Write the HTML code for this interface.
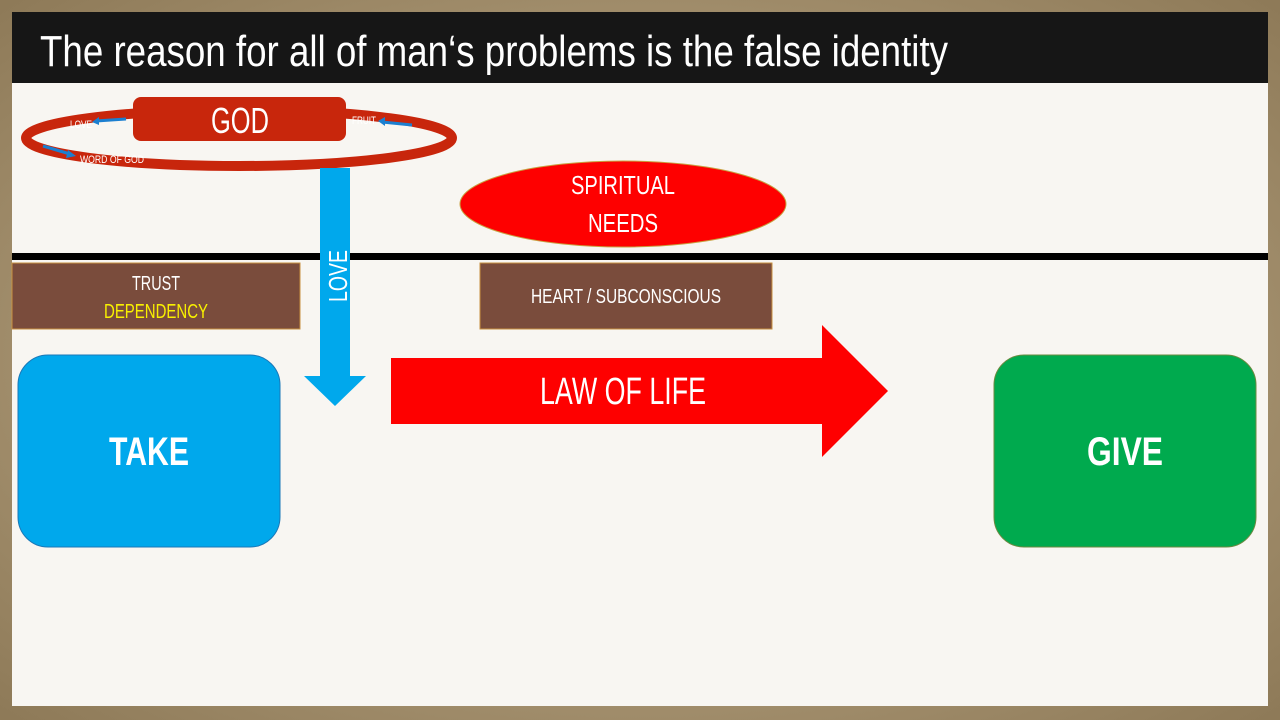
<!DOCTYPE html>
<html><head><meta charset="utf-8"><style>
html,body{margin:0;padding:0;width:1280px;height:720px;overflow:hidden;background:#a08a68}
svg{display:block}
text{font-family:"Liberation Sans Narrow","Liberation Sans",sans-serif}
</style></head><body>
<svg width="1280" height="720" viewBox="0 0 1280 720" xmlns="http://www.w3.org/2000/svg">
<defs>
<radialGradient id="bg" cx="50%" cy="50%" r="70%">
<stop offset="0" stop-color="#c9b694"/><stop offset="1" stop-color="#8e7a58"/></radialGradient>
</defs>
<rect width="1280" height="720" fill="url(#bg)"/>
<rect x="12" y="12" width="1256" height="694" fill="#f8f6f2"/>
<rect x="12" y="12" width="1256" height="71" fill="#161616"/>
<text x="40" y="66" fill="#fff" font-size="44" textLength="908" lengthAdjust="spacingAndGlyphs">The reason for all of man‘s problems is the false identity</text>

<ellipse cx="239" cy="138" rx="213" ry="28" fill="none" stroke="#c8260c" stroke-width="10"/>
<rect x="133" y="97" width="213" height="44" rx="8" fill="#c8260c"/>
<text x="240" y="133" fill="#fff" font-size="36" text-anchor="middle" textLength="58" lengthAdjust="spacingAndGlyphs">GOD</text>
<text x="70" y="128" fill="#fff" font-size="11" textLength="22" lengthAdjust="spacingAndGlyphs">LOVE</text>
<line x1="96" y1="121" x2="126" y2="119" stroke="#1c7fd0" stroke-width="3"/><polygon points="92,122 99,117 99,125" fill="#1c7fd0"/>
<text x="352" y="124" fill="#fff" font-size="11" textLength="24" lengthAdjust="spacingAndGlyphs">FRUIT</text>
<line x1="382" y1="122" x2="412" y2="125" stroke="#1c7fd0" stroke-width="3"/><polygon points="378,121 385,117 385,126" fill="#1c7fd0"/>
<text x="80" y="163" fill="#fff" font-size="11" textLength="64" lengthAdjust="spacingAndGlyphs">WORD OF GOD</text>
<line x1="43" y1="146" x2="70" y2="154" stroke="#1c7fd0" stroke-width="3"/><polygon points="76,156 68,150 66,158" fill="#1c7fd0"/>

<ellipse cx="623" cy="204" rx="163" ry="43" fill="#fe0000" stroke="#c8a040" stroke-width="1"/>
<text x="623" y="194" fill="#fff" font-size="26" text-anchor="middle" textLength="104" lengthAdjust="spacingAndGlyphs">SPIRITUAL</text>
<text x="623" y="232" fill="#fff" font-size="26" text-anchor="middle" textLength="70" lengthAdjust="spacingAndGlyphs">NEEDS</text>

<rect x="12" y="253" width="1256" height="7" fill="#000"/>

<rect x="12" y="263" width="288" height="66" fill="#7a4c3c" stroke="#c89040" stroke-width="1"/>
<text x="156" y="290" fill="#fff" font-size="20" text-anchor="middle" textLength="48" lengthAdjust="spacingAndGlyphs">TRUST</text>
<text x="156" y="318" fill="#f8f000" font-size="20" text-anchor="middle" textLength="104" lengthAdjust="spacingAndGlyphs">DEPENDENCY</text>
<rect x="480" y="263" width="292" height="66" fill="#7a4c3c" stroke="#c89040" stroke-width="1"/>
<text x="626" y="303" fill="#fff" font-size="20" text-anchor="middle" textLength="190" lengthAdjust="spacingAndGlyphs">HEART / SUBCONSCIOUS</text>

<polygon points="320,168 350,168 350,376 366,376 335,406 304,376 320,376" fill="#00a8ec"/>
<text transform="translate(347,302) rotate(-90)" fill="#fff" font-size="26" textLength="52" lengthAdjust="spacingAndGlyphs">LOVE</text>

<polygon points="391,358 822,358 822,325 888,391 822,457 822,424 391,424" fill="#fe0000"/>
<text x="623" y="404" fill="#fff" font-size="38" text-anchor="middle" textLength="166" lengthAdjust="spacingAndGlyphs">LAW OF LIFE</text>

<rect x="18" y="355" width="262" height="192" rx="30" fill="#00a8ec" stroke="#1a78b8" stroke-width="1"/>
<text x="149" y="465" fill="#fff" font-size="40" font-weight="bold" text-anchor="middle" textLength="80" lengthAdjust="spacingAndGlyphs">TAKE</text>
<rect x="994" y="355" width="262" height="192" rx="30" fill="#00aa4e" stroke="#6a8a40" stroke-width="1"/>
<text x="1125" y="465" fill="#fff" font-size="40" font-weight="bold" text-anchor="middle" textLength="76" lengthAdjust="spacingAndGlyphs">GIVE</text>
</svg>
</body></html>
